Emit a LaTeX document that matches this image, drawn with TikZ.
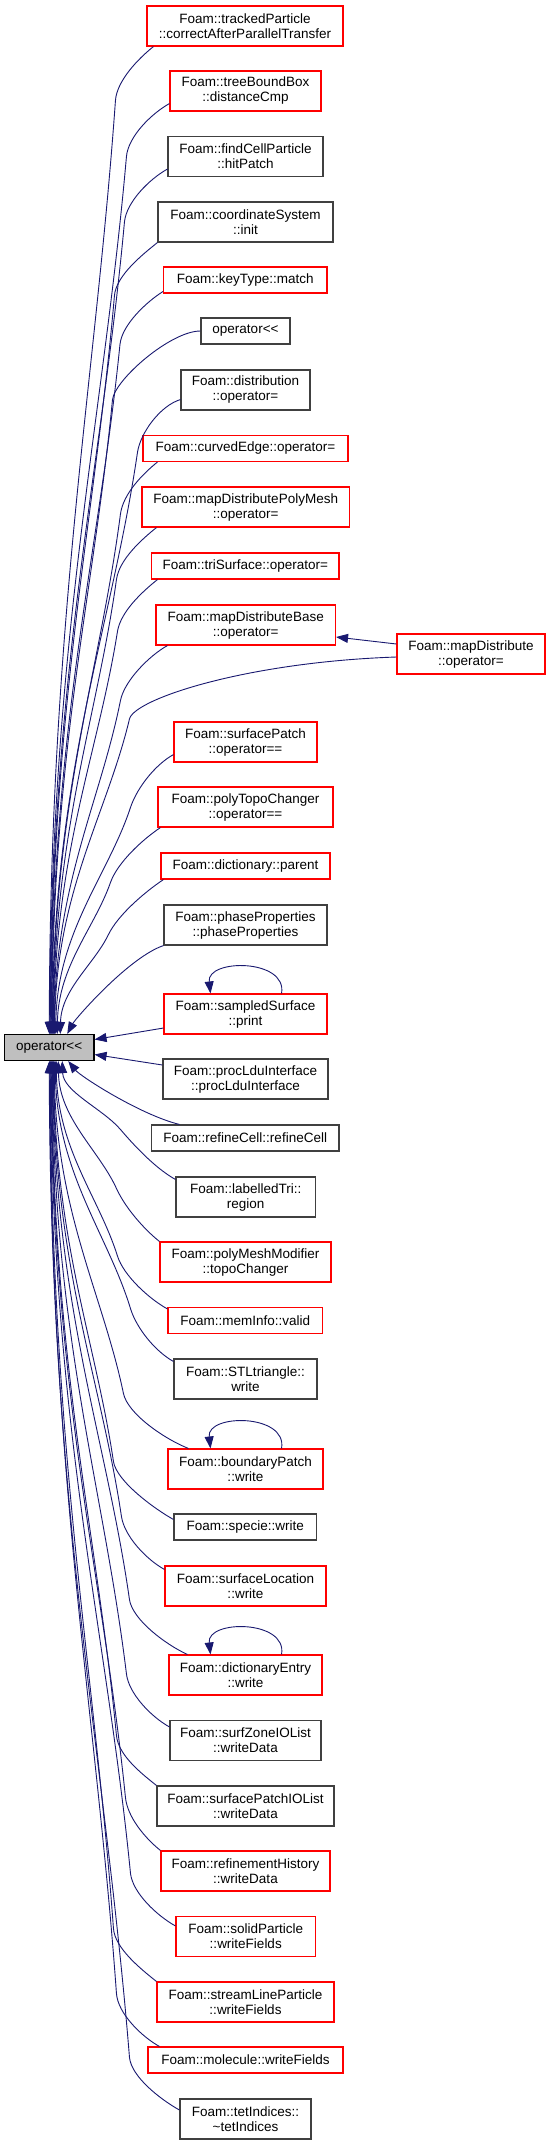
\documentclass[tikz,border=0pt]{standalone}
\usepackage{fontspec}
\setmainfont{Liberation Sans}
\usetikzlibrary{arrows.meta,calc}
\definecolor{ecol}{HTML}{191970}
\definecolor{grey25}{HTML}{404040}
\definecolor{grey75}{HTML}{BFBFBF}
\definecolor{gvred}{HTML}{FF0000}
% #1 end on main, #2 start on caller, #3 #4 bend point offset, #5 #6 control offset near caller
\newcommand{\calledge}[6]{%
  \draw[edg,<-] let \p1=#1, \p2=#2, \p3=({\x2+(#3pt)},{\y2+(#4pt)}),
    \n1={(\x3-\x1)/abs(\y3-\y1)}, \n2={(\y3-\y1)/abs(\y3-\y1)} in
    (\p1) .. controls ({\x1+1pt},{\y1+0.45*(\y3-\y1)}) and ({\x3-0.3*(\x3-\x1)},{\y3-0.3*(\y3-\y1)}) .. (\p3)
    .. controls ({\x3+20pt*\n1},{\y3+20pt*\n2}) and ({\x2+(#5pt)},{\y2+(#6pt)}) .. (\p2);}
\begin{document}
\begin{tikzpicture}[x=1pt,y=-1pt,
  nbox/.style={draw, rectangle, align=center, inner sep=0pt, line width=1.1pt,
    font=\fontsize{13.5}{15}\selectfont},
  rb/.style={nbox, draw=gvred},
  gb/.style={nbox, draw=grey25},
  dbl/.style={minimum height=40pt},
  sgl/.style={minimum height=26pt},
  edg/.style={draw=ecol, line width=0.9pt},
  >={Triangle[length=12pt,width=9pt]}]
\path[use as bounding box, fill=white] (0,0) rectangle (548,2145);

\node[rb,dbl,minimum width=196pt] (tp) at (245,26) {Foam::trackedParticle\\::correctAfterParallelTransfer};
\node[rb,dbl,minimum width=151pt] (tbb) at (245.5,91) {Foam::treeBoundBox\\::distanceCmp};
\node[gb,dbl,minimum width=155pt] (fcp) at (245.5,156.5) {Foam::findCellParticle\\::hitPatch};
\node[gb,dbl,minimum width=175pt] (cs) at (245.5,222) {Foam::coordinateSystem\\::init};
\node[rb,sgl,minimum width=163.5pt] (kt) at (245.25,280) {Foam::keyType::match};
\node[gb,sgl,minimum width=89pt] (op2) at (245.5,331) {operator<\kern0pt<};
\node[gb,dbl,minimum width=129pt] (dist) at (245.5,390) {Foam::distribution\\::operator=};
\node[rb,sgl,minimum width=205pt] (ce) at (245.5,448.5) {Foam::curvedEdge::operator=};
\node[rb,dbl,minimum width=207.5pt] (mdpm) at (245.75,507) {Foam::mapDistributePolyMesh\\::operator=};
\node[rb,sgl,minimum width=187.5pt] (ts) at (245.25,566) {Foam::triSurface::operator=};
\node[rb,dbl,minimum width=179.5pt] (mdb) at (245.75,625) {Foam::mapDistributeBase\\::operator=};
\node[rb,dbl,minimum width=148pt] (md) at (471,654) {Foam::mapDistribute\\::operator=};
\node[rb,dbl,minimum width=143pt] (sp) at (245.5,742) {Foam::surfacePatch\\::operator==};
\node[rb,dbl,minimum width=175pt] (ptc) at (245.5,807) {Foam::polyTopoChanger\\::operator==};
\node[rb,sgl,minimum width=169pt] (dp) at (245.5,866) {Foam::dictionary::parent};
\node[gb,dbl,minimum width=163pt] (pp) at (245.5,925) {Foam::phaseProperties\\::phaseProperties};
\node[rb,dbl,minimum width=163pt] (ss) at (245.5,1014) {Foam::sampledSurface\\::print};
\node[nbox,sgl,draw=black,fill=grey75,minimum width=89.5pt] (main) at (49.25,1047.5) {operator<\kern0pt<};
\node[gb,dbl,minimum width=165pt] (pli) at (245.5,1079) {Foam::procLduInterface\\::procLduInterface};
\node[gb,sgl,minimum width=187.5pt] (rc) at (245.25,1138) {Foam::refineCell::refineCell};
\node[gb,dbl,minimum width=139.5pt] (lt) at (245.75,1197) {Foam::labelledTri::\\region};
\node[rb,dbl,minimum width=171pt] (pmm) at (245.5,1262) {Foam::polyMeshModifier\\::topoChanger};
\node[rb,sgl,minimum width=154.5pt] (mi) at (245.25,1320.5) {Foam::memInfo::valid};
\node[gb,dbl,minimum width=143pt] (stl) at (245.5,1379) {Foam::STLtriangle::\\write};
\node[rb,dbl,minimum width=155pt] (bp) at (245.5,1469) {Foam::boundaryPatch\\::write};
\node[gb,sgl,minimum width=142.5pt] (spw) at (245.25,1527) {Foam::specie::write};
\node[rb,dbl,minimum width=161pt] (sl) at (245.5,1586) {Foam::surfaceLocation\\::write};
\node[rb,dbl,minimum width=153pt] (de) at (245.5,1675) {Foam::dictionaryEntry\\::write};
\node[gb,dbl,minimum width=151pt] (sz) at (245.5,1740.5) {Foam::surfZoneIOList\\::writeData};
\node[gb,dbl,minimum width=177pt] (spio) at (245.5,1806) {Foam::surfacePatchIOList\\::writeData};
\node[rb,dbl,minimum width=169pt] (rh) at (245.5,1871) {Foam::refinementHistory\\::writeData};
\node[rb,dbl,minimum width=139.5pt] (sop) at (245.75,1936.5) {Foam::solidParticle\\::writeFields};
\node[rb,dbl,minimum width=177pt] (slp) at (245.5,2002) {Foam::streamLineParticle\\::writeFields};
\node[rb,sgl,minimum width=195pt] (mol) at (245.5,2060) {Foam::molecule::writeFields};
\node[gb,dbl,minimum width=131pt] (ti) at (245.5,2119) {Foam::tetIndices::\\\textasciitilde tetIndices};

% callers above
\calledge{([xshift=0pt]main.north)}{([xshift=7pt]tp.south west)}{-38}{-54}{-15}{-12}
\calledge{([xshift=0.5pt]main.north)}{([yshift=8pt]tbb.south west)}{-43}{-53}{-18}{-10}
\calledge{([xshift=1pt]main.north)}{([yshift=8pt]fcp.south west)}{-43}{-53}{-18}{-10}
\calledge{([xshift=1.5pt]main.north)}{(cs.south west)}{-43}{-53}{-15}{-12}
\calledge{([xshift=2pt]main.north)}{([yshift=2pt]kt.south west)}{-43}{-53}{-16}{-10}
\calledge{([xshift=2.5pt]main.north)}{(op2.west)}{-88}{-69}{-30}{0}
\calledge{([xshift=3pt]main.north)}{([yshift=11pt]dist.south west)}{-43}{-53}{-20}{-6}
\calledge{([xshift=3.5pt]main.north)}{([xshift=15pt]ce.south west)}{-37}{-52}{-15}{-12}
\calledge{([xshift=4pt]main.north)}{([xshift=15pt]mdpm.south west)}{-40}{-52}{-15}{-12}
\calledge{([xshift=4.5pt]main.north)}{([xshift=6.5pt]ts.south west)}{-40}{-52}{-15}{-12}
\calledge{([xshift=5pt]main.north)}{([xshift=12pt]mdb.south west)}{-47}{-55}{-18}{-10}
\calledge{([xshift=5.5pt]main.north)}{([yshift=-3pt]md.west)}{-267}{-62}{-150}{-5}
\calledge{([xshift=6.5pt]main.north)}{([yshift=8pt]sp.south west)}{-43}{-53}{-18}{-10}
\calledge{([xshift=8pt]main.north)}{([xshift=3pt]ptc.south west)}{-50}{-55}{-18}{-12}
\calledge{([xshift=11pt]main.north)}{([xshift=3pt]dp.south west)}{-55}{-55}{-18}{-12}
\draw[edg,<-] ([xshift=18pt]main.north) .. controls +(8,-15) and +(-35,12) .. (pp.south west);
\draw[edg,<-] ([yshift=8pt]main.east) -- ([yshift=-14pt]ss.west);
\draw[edg,<-] ([yshift=-7pt]main.east) -- ([yshift=14pt]pli.west);
\draw[edg,<-] ([yshift=-12pt]mdb.east) -- ([yshift=10pt]md.west);

% callers below
\draw[edg,<-] ([xshift=19pt]main.south) .. controls +(12,15) and +(-40,-10) .. ([xshift=28.5pt]rc.north west);
\calledge{([xshift=13pt]main.south)}{([yshift=-3pt]lt.north west)}{-55}{50}{-18}{10}
\calledge{([xshift=9pt]main.south)}{(pmm.north west)}{-43}{53}{-15}{12}
\calledge{([xshift=7pt]main.south)}{([yshift=-2pt]mi.north west)}{-50}{53}{-18}{10}
\calledge{([xshift=6pt]main.south)}{([yshift=-3pt]stl.north west)}{-43}{53}{-18}{10}
\calledge{([xshift=5pt]main.south)}{([xshift=21pt]bp.north west)}{-65}{55}{-25}{10}
\calledge{([xshift=4.5pt]main.south)}{([yshift=-6pt]spw.north west)}{-60}{58}{-18}{10}
\calledge{([xshift=4pt]main.south)}{([yshift=-4pt]sl.north west)}{-43}{53}{-18}{10}
\calledge{([xshift=3.5pt]main.south)}{([xshift=19pt]de.north west)}{-58}{55}{-22}{10}
\calledge{([xshift=3pt]main.south)}{([yshift=-7pt]sz.north west)}{-43}{53}{-18}{10}
\calledge{([xshift=2.5pt]main.south)}{(spio.north west)}{-40}{50}{-15}{12}
\calledge{([xshift=2pt]main.south)}{(rh.north west)}{-35}{53}{-15}{12}
\calledge{([xshift=1.5pt]main.south)}{([yshift=-10pt]sop.north west)}{-45}{53}{-18}{10}
\calledge{([xshift=1pt]main.south)}{(slp.north west)}{-43}{53}{-15}{12}
\calledge{([xshift=0.5pt]main.south)}{([xshift=12pt]mol.north west)}{-43}{53}{-18}{10}
\calledge{([xshift=0pt]main.south)}{([yshift=9pt]ti.west)}{-50}{53}{-18}{10}

% self loops
\draw[edg,->] ([xshift=-46pt]ss.north east) .. controls +(6,-35) and +(-4,-35) .. ([xshift=-35pt]ss.north);
\draw[edg,->] ([xshift=-42pt]bp.north east) .. controls +(6,-35) and +(-4,-35) .. ([xshift=-35pt]bp.north);
\draw[edg,->] ([xshift=-41pt]de.north east) .. controls +(6,-35) and +(-4,-35) .. ([xshift=-35pt]de.north);
\end{tikzpicture}
\end{document}
